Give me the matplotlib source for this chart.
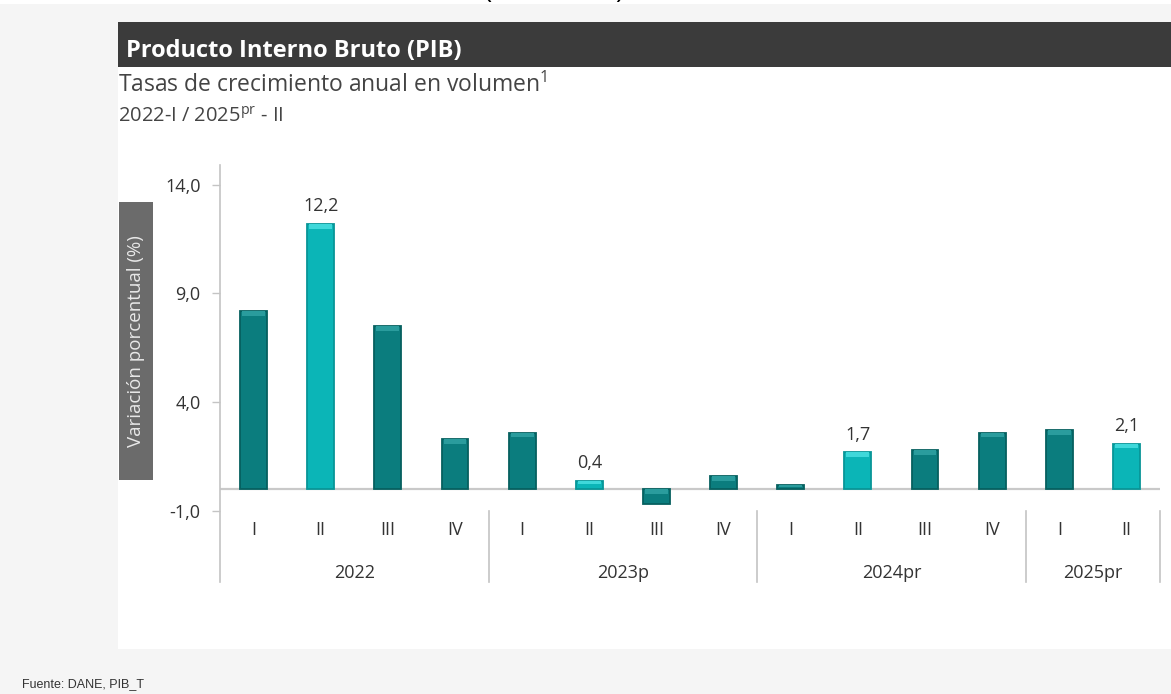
import numpy as np
import matplotlib.pyplot as plt
from matplotlib.patches import Rectangle

# ---------------------------------------------------------
# Data
# ---------------------------------------------------------
quarters = ["I", "II", "III", "IV", "I", "II", "III", "IV",
            "I", "II", "III", "IV", "I", "II"]
years = ["2022", "2023p", "2024pr", "2025pr"]
year_sizes = [4, 4, 4, 2]
growth = [8.2, 12.2, 7.5, 2.3, 2.6, 0.4, -0.7, 0.6,
          0.2, 1.7, 1.8, 2.6, 2.7, 2.1]
labelled = [1, 5, 9, 13]          # second quarters carry a label and a lighter colour
yticks = [-1.0, 4.0, 9.0, 14.0]

DARK = "#0b7d7e"
DARK_EDGE = "#06605f"
DARK_CAP = "#2a9c9d"
LIGHT = "#0bb5b7"
LIGHT_EDGE = "#089597"
LIGHT_CAP = "#3fd8da"
TXT = "#333333"

plt.rcParams["font.family"] = ["Open Sans", "DejaVu Sans"]

W, H = 1171, 694
fig = plt.figure(figsize=(W / 100, H / 100), dpi=100)
fig.patch.set_facecolor("#f5f5f5")


def fx(p):
    return p / W


def fy(p):
    return 1 - p / H


# white panel, header bar, top strip
fig.patches.append(Rectangle((fx(118), fy(649)), fx(W - 118), (649 - 22) / H,
                             transform=fig.transFigure, facecolor="white",
                             edgecolor="none", zorder=-5))
fig.patches.append(Rectangle((fx(118), fy(67)), fx(W - 118), 45 / H,
                             transform=fig.transFigure, facecolor="#3b3b3b",
                             edgecolor="none", zorder=-4))
fig.patches.append(Rectangle((0, fy(4)), 1, 4 / H, transform=fig.transFigure,
                             facecolor="white", edgecolor="none", zorder=-4))

# clipped heading from the page above
fig.text(fx(484), 1 + 2 / H, "(", fontsize=20, color="black", va="baseline")
fig.text(fx(615), 1 + 2 / H, ")", fontsize=20, color="black", va="baseline")

fig.text(fx(126), fy(57), "Producto Interno Bruto (PIB)", fontsize=17,
         fontweight="bold", color="white", va="baseline", zorder=3)
fig.text(fx(118), fy(92), r"Tasas de crecimiento anual en volumen$^{\mathregular{1}}$",
         fontsize=16.5, color="#444444", va="baseline")
fig.text(fx(118), fy(122), r"2022-I / 2025$^{\mathregular{pr}}$ - II",
         fontsize=14.5, color="#444444", va="baseline")

fig.text(fx(22), fy(687), "Fuente: DANE, PIB_T", fontsize=9,
         family="Liberation Sans", color="#333333", va="baseline")

# y label box
fig.patches.append(Rectangle((fx(119), fy(480)), fx(34), 278 / H,
                             transform=fig.transFigure, facecolor="#6b6b6b",
                             edgecolor="none", zorder=-4))
fig.text(fx(136), fy(341), "Variación porcentual (%)", rotation=90,
         fontsize=13.5, color="#e8e8e8", ha="center", va="center", zorder=3)

# ---------------------------------------------------------
# Axes
# ---------------------------------------------------------
ax = fig.add_axes([fx(220), fy(511), fx(940), 346 / H])
ax.set_zorder(2)
ax.set_facecolor("none")
x = np.arange(len(growth))
vals = np.array(growth)
colors = [LIGHT if i in labelled else DARK for i in x]
edges = [LIGHT_EDGE if i in labelled else DARK_EDGE for i in x]
caps = [LIGHT_CAP if i in labelled else DARK_CAP for i in x]
ax.bar(x, vals, width=0.4, color=colors, edgecolor=edges, linewidth=1.3,
       zorder=3)
# light bevel on the upper edge of each bar
cap_h = np.minimum(0.22, np.abs(vals) * 0.45)
cap_top = np.maximum(vals, 0)
ax.bar(x, cap_h, bottom=cap_top - cap_h, width=0.34, color=caps,
       edgecolor="none", zorder=4)

for i in labelled:
    ax.annotate(f"{growth[i]:.1f}".replace(".", ","), (x[i], growth[i]),
                xytext=(0, 6), textcoords="offset points", ha="center",
                va="bottom", fontsize=13, color=TXT)

ax.set_xlim(-0.5, len(growth) - 0.5)
ax.set_ylim(-1.0, 14.9)
ax.axhline(0, color="#c9c9c9", lw=1.6, zorder=2)

ax.set_yticks(yticks)
ax.set_yticklabels([f"{v:.1f}".replace(".", ",") for v in yticks],
                   fontsize=13, color=TXT)
ax.tick_params(axis="y", length=6, width=1, color="#c4c4c4", pad=8)
ax.set_xticks([])
for s in ["top", "right", "bottom", "left"]:
    ax.spines[s].set_visible(False)

tr = ax.get_xaxis_transform()
# left spine running down through the category area
ax.plot([-0.5, -0.5], [1.0, -0.205], transform=tr, color="#c4c4c4",
        lw=1.2, clip_on=False)
for i, q in enumerate(quarters):
    ax.text(x[i], -0.055, q, transform=tr, ha="center", va="center",
            fontsize=13, color=TXT)

start = 0
for yr, n in zip(years, year_sizes):
    mid = start + (n - 1) / 2
    ax.text(mid, -0.18, yr, transform=tr, ha="center", va="center",
            fontsize=13, color=TXT)
    end = start + n - 0.5
    ax.plot([end, end], [0.0, -0.205], transform=tr, color="#c4c4c4",
            lw=1.2, clip_on=False)
    start += n

fig.savefig("out.png", dpi=100)
